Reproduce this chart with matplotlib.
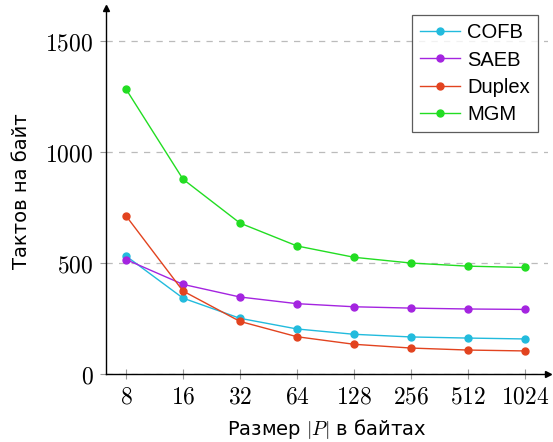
import matplotlib.pyplot as plt
import numpy as np

plt.rcParams['mathtext.fontset'] = 'cm'
plt.rcParams['font.family'] = ['DejaVu Sans']

# message sizes in bytes
sizes = [8, 16, 32, 64, 128, 256, 512, 1024]
size_labels = ['8', '16', '32', '64', '128', '256', '512', '1024']

# cycles per byte
cofb = [532, 342, 251, 203, 179, 167, 162, 158]
saeb = [516, 404, 347, 317, 303, 297, 293, 291]
duplex = [713, 374, 237, 168, 134, 117, 108, 104]
mgm = [1284, 878, 680, 577, 526, 500, 486, 480]

yticks = [0, 500, 1000, 1500]

fig = plt.figure(figsize=(5.53, 4.42), dpi=100)
ax = fig.add_axes([0.1917, 0.1538, 0.799, 0.828])

series = [
    ('COFB', cofb, '#22bbdd'),
    ('SAEB', saeb, '#a424e0'),
    ('Duplex', duplex, '#e2431f'),
    ('MGM', mgm, '#22dd22'),
]
for name, vals, col in series:
    ax.plot(sizes, vals, '-o', color=col, lw=1.0, ms=5, label=name)

ax.set_xscale('log', base=2)
ax.set_xlim(2 ** 2.65, 2 ** 10.4)
ax.set_ylim(0, 1649)

ax.set_xticks(sizes)
ax.set_xticklabels(['$' + s + '$' for s in size_labels], fontsize=17)
ax.minorticks_off()
ax.set_yticks(yticks)
ax.set_yticklabels(['$%d$' % v for v in yticks], fontsize=17)

ax.tick_params(axis='x', direction='inout', length=7, width=0.8, color='#999999', pad=4)
ax.tick_params(axis='y', direction='out', length=4, width=0.8, color='#999999', pad=5)
ax.yaxis.grid(True, ls=(0, (5, 5)), color='#bbbbbb', lw=0.9)

for s in ['top', 'right']:
    ax.spines[s].set_visible(False)
for s in ['left', 'bottom']:
    ax.spines[s].set_linewidth(1.0)

# arrow heads on the axis ends
ax.plot(1, 0, '>k', ms=5, transform=ax.transAxes, clip_on=False)
ax.plot(0, 1, '^k', ms=5, transform=ax.transAxes, clip_on=False)

ax.set_xlabel('Размер $|P|$ в байтах', fontsize=14, labelpad=6)
ax.set_ylabel('Тактов на байт', fontsize=14, labelpad=10)

leg = ax.legend(loc='upper right', frameon=True, fancybox=False,
                prop={'family': 'Liberation Sans', 'size': 14.5},
                edgecolor='#333333', handlelength=2.0, borderpad=0.4,
                labelspacing=0.42, handletextpad=0.35, borderaxespad=0,
                bbox_to_anchor=(0.977, 0.981))
leg.get_frame().set_linewidth(0.9)

fig.savefig('out.png', dpi=100)
